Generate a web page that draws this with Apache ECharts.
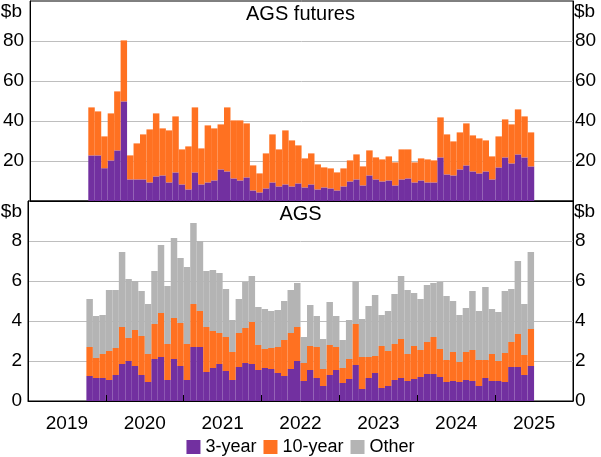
<!DOCTYPE html>
<html><head><meta charset="utf-8">
<script src="https://cdn.jsdelivr.net/npm/echarts@6/dist/echarts.min.js"></script>
<style>html,body{margin:0;padding:0;background:#fff}#c{width:601px;height:457px}</style>
</head><body><div id="c"></div>
<script>
// ---- data (monthly, first bar = Oct 2019) ----
const firstMonth = '2019-10';
const yearLabels = ['2019', '2020', '2021', '2022', '2023', '2024', '2025'];
const seriesNames = ['3-year', '10-year', 'Other'];

// AGS futures, $b
const futures3y = [22.8,22.8,16.4,20.3,25.3,49.8,10.8,10.8,10.8,9.3,
  12.3,12.8,9.3,14.3,8.3,5.8,14.3,8.3,9.3,10.3,
  15.8,14.8,11.3,10.3,11.8,5.3,4.3,6.3,9.3,7.3,
  8.3,7.3,8.8,6.8,8.3,5.8,6.8,6.3,5.3,7.3,
  9.8,10.8,7.8,12.8,10.8,9.8,10.3,7.8,10.8,11.3,
  9.3,10.3,9.3,9.3,21.8,13.3,12.8,15.8,17.8,14.8,
  13.8,14.8,10.8,16.8,21.8,18.8,23.3,21.8,17.3];
const futures10y = [24.0,22.0,15.9,23.5,29.5,30.5,12.0,18.0,22.5,26.5,
  31.5,23.5,26.0,28.0,17.5,21.5,32.5,18.0,28.5,26.0,
  22.5,32.0,29.0,30.0,27.0,12.5,9.5,17.5,24.0,18.5,
  27.0,23.0,19.0,14.5,15.5,12.5,10.0,10.0,9.0,9.0,
  10.5,12.5,9.5,12.5,11.0,11.0,12.0,11.5,15.0,14.5,
  10.0,11.0,11.5,11.0,20.0,20.0,17.0,18.5,21.0,18.0,
  17.5,15.5,11.5,15.5,19.0,19.5,22.5,20.5,17.0];

// AGS, $b
const ags3y = [1.25,1.15,1.15,1.05,1.3,1.85,2.0,1.75,1.3,0.95,
  2.1,2.2,1.05,2.1,1.75,1.05,2.7,2.7,1.45,1.65,
  1.85,1.5,1.05,1.7,1.9,1.85,1.55,1.65,1.6,1.4,
  1.25,1.6,2.0,1.0,1.55,1.15,0.75,1.3,1.55,0.9,
  1.1,1.8,0.6,1.15,1.4,0.65,0.75,1.05,1.15,1.0,
  1.1,1.2,1.35,1.35,1.2,0.95,1.0,0.95,1.05,1.0,
  0.75,1.15,1.0,1.0,0.95,1.7,1.7,1.3,1.75];
const ags10y = [1.45,1.0,1.2,1.45,1.35,1.85,1.15,1.8,1.95,1.4,
  1.75,2.2,1.8,2.05,2.15,1.8,2.15,1.8,2.25,1.85,
  1.55,1.7,1.4,1.7,1.75,2.1,1.25,0.95,1.05,1.3,
  1.8,1.8,1.7,0.9,1.2,1.55,0.85,1.5,1.15,0.75,
  1.0,2.05,1.6,1.05,0.85,2.1,1.75,1.8,1.95,1.35,
  1.65,1.35,1.6,1.85,1.4,1.1,1.45,1.0,1.4,1.55,
  1.3,0.9,1.35,1.0,1.45,1.25,1.65,1.0,1.85];
const agsOther = [2.4,2.1,1.95,3.05,2.9,3.75,2.95,2.45,2.25,2.5,
  2.65,3.4,2.9,4.0,3.25,3.85,4.05,3.5,2.8,3.05,
  3.0,2.4,1.6,1.7,2.3,2.3,1.9,2.0,1.85,1.85,
  1.95,2.15,2.2,1.3,2.05,1.55,1.5,2.15,1.55,1.4,
  1.95,2.15,1.9,2.55,3.05,1.55,2.0,2.5,3.15,3.2,
  2.65,2.55,2.85,2.7,3.35,3.2,2.55,2.35,2.2,2.95,
  2.45,3.65,2.25,2.45,3.1,2.65,3.65,2.55,3.85];

// ---- axis categories: every month Jan 2019 .. Dec 2025 ----
const categories = [];
for (let y = 2019; y <= 2025; y++) for (let m = 1; m <= 12; m++) categories.push(y + '-' + String(m).padStart(2, '0'));
const off = categories.indexOf(firstMonth);
const place = arr => categories.map((c, i) => (i >= off && i - off < arr.length) ? arr[i - off] : null);
const yearTicks = yearLabels.map((y, i) => i * 12).concat([yearLabels.length * 12]);
const yearLabelPos = yearLabels.map((y, i) => i * 12 + 6);

const FONT = 'Arial, "Liberation Sans", sans-serif';
const FS = 19, TFS = 20;
const C3 = '#7230A0', C10 = '#FF7121', CO = '#B4B4B4';

const chart = echarts.init(document.getElementById('c'), null, {renderer: 'canvas'});
const gridCommon = {left: 28, right: 28, show: true, borderColor: '#000', borderWidth: 1, backgroundColor: 'transparent'};
const catAxis = gi => ({type: 'category', gridIndex: gi, data: categories, boundaryGap: true, z: 5,
  axisLine: {show: true, lineStyle: {color: '#000', width: 1}}, axisTick: {show: false}, axisLabel: {show: false}, splitLine: {show: false}});
const valAxis = (gi, pos, max, interval, grid) => ({type: 'value', gridIndex: gi, position: pos, min: 0, max: max, interval: interval,
  axisLine: {show: true, lineStyle: {color: '#000'}}, axisTick: {show: false},
  axisLabel: {color: '#000', fontFamily: FONT, fontSize: FS, margin: pos === 'left' ? 6 : 2,
    formatter: v => (v === 0 && max === 100) || v === max ? '' : String(v)},
  splitLine: {show: grid, showMinLine: false, showMaxLine: false, lineStyle: {color: '#BEBEBE', width: 1}}});
const txt = (x, y, s, align, size) => ({type: 'text', x: x, y: y,
  style: {text: s, fill: '#000', font: size + 'px ' + FONT, textAlign: align, textVerticalAlign: 'middle'}});

const option = {
  animation: false,
  grid: [Object.assign({top: 1, height: 200}, gridCommon), Object.assign({top: 201, height: 200}, gridCommon)],
  xAxis: [catAxis(0), catAxis(1),
    {type: 'value', gridIndex: 1, position: 'bottom', min: 0, max: categories.length, z: 6,
      axisLine: {show: false}, splitLine: {show: false},
      axisTick: {show: true, inside: true, length: 6, customValues: yearTicks, lineStyle: {color: '#000', width: 1}},
      axisLabel: {show: true, customValues: yearLabelPos, margin: 13, color: '#000', fontFamily: FONT, fontSize: FS,
        formatter: v => yearLabels[(v - 6) / 12]}}],
  yAxis: [valAxis(0, 'left', 100, 20, true), valAxis(0, 'right', 100, 20, false),
          valAxis(1, 'left', 10, 2, true), valAxis(1, 'right', 10, 2, false)],
  legend: {data: seriesNames, top: 438, left: 'center', icon: 'rect', itemWidth: 14, itemHeight: 14, itemGap: 7, padding: 0,
    textStyle: {color: '#000', fontFamily: FONT, fontSize: 18}},
  graphic: [
    txt(300.5, 14, 'AGS futures', 'center', TFS),
    txt(300.5, 214, 'AGS', 'center', TFS),
    txt(22, 12, '$b', 'right', FS),
    txt(574, 12, '$b', 'left', FS),
    txt(22, 212, '$b', 'right', FS),
    txt(574, 212, '$b', 'left', FS)
  ],
  series: [
    {name: seriesNames[0], type: 'bar', stack: 'fut', xAxisIndex: 0, yAxisIndex: 0, data: place(futures3y), itemStyle: {color: C3}, barCategoryGap: '0%'},
    {name: seriesNames[1], type: 'bar', stack: 'fut', xAxisIndex: 0, yAxisIndex: 0, data: place(futures10y), itemStyle: {color: C10}, barCategoryGap: '0%'},
    {name: seriesNames[0], type: 'bar', stack: 'ags', xAxisIndex: 1, yAxisIndex: 2, data: place(ags3y), itemStyle: {color: C3}, barCategoryGap: '0%'},
    {name: seriesNames[1], type: 'bar', stack: 'ags', xAxisIndex: 1, yAxisIndex: 2, data: place(ags10y), itemStyle: {color: C10}, barCategoryGap: '0%'},
    {name: seriesNames[2], type: 'bar', stack: 'ags', xAxisIndex: 1, yAxisIndex: 2, data: place(agsOther), itemStyle: {color: CO}, barCategoryGap: '0%'}
  ]
};
chart.setOption(option);
</script></body></html>
